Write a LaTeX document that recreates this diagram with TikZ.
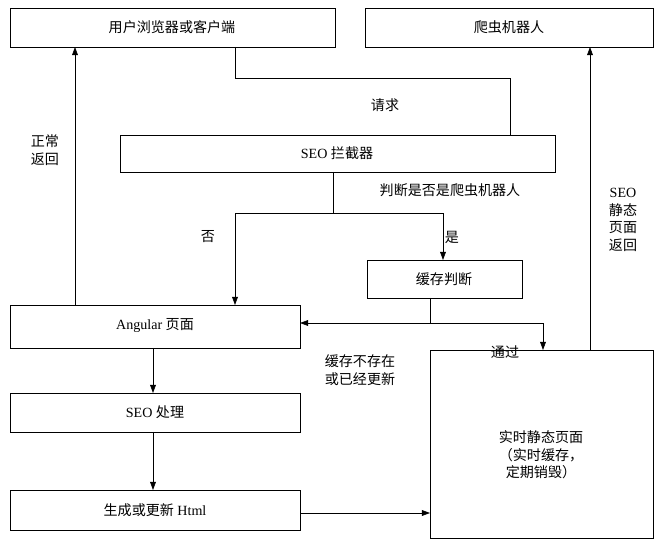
\documentclass[tikz,border=0pt]{standalone}
\usepackage{fontspec}
\setmainfont{Liberation Serif}
\newfontfamily\cjk{Noto Sans CJK SC}
\usetikzlibrary{arrows.meta}
\begin{document}
\begin{tikzpicture}[x=0.03cm,y=-0.03cm,font=\fontsize{12}{15}\selectfont,
  box/.style={draw,semithick},
  link/.style={draw,semithick,-{Triangle[length=7pt,width=5pt]}},
  lbl/.style={align=center,inner sep=1pt}]
\useasboundingbox (0,0) rectangle (662,544);
% boxes
\draw[box] (10,8) rectangle (335,47);
\node (user) at (172,27) {\cjk 用户浏览器或客户端};
\draw[box] (365,8) rectangle (653,47);
\node (bot) at (509,27) {\cjk 爬虫机器人};
\draw[box] (120,135) rectangle (555,172);
\node (seo) at (337,153) {SEO {\cjk 拦截器}};
\draw[box] (367,260) rectangle (522,298);
\node (cache) at (444,279) {\cjk 缓存判断};
\draw[box] (10,305) rectangle (300,348);
\node (ng) at (155,326) {Angular {\cjk 页面}};
\draw[box] (10,393) rectangle (300,432);
\node (proc) at (155,412) {SEO {\cjk 处理}};
\draw[box] (10,490) rectangle (300,530);
\node (gen) at (155,510) {{\cjk 生成或更新} Html};
\draw[box] (430,350) rectangle (653,538);
\node[lbl] (page) at (541,455) {\cjk 实时静态页面\\\cjk （实时缓存，\\\cjk 定期销毁）};
% connectors
\draw[semithick] (235,47) -- (235,78) -- (510,78) -- (510,135);
\draw[semithick] (333,172) -- (333,213);
\draw[link] (333,213) -- (235,213) -- (235,305);
\draw[link] (333,213) -- (443,213) -- (443,260);
\draw[link] (430,298) -- (430,323) -- (300,323);
\draw[link] (430,323) -- (543,323) -- (543,350);
\draw[link] (75,305) -- (75,47);
\draw[link] (590,350) -- (590,47);
\draw[link] (153,348) -- (153,393);
\draw[link] (153,432) -- (153,490);
\draw[link] (300,513) -- (430,513);
% labels
\node[lbl] at (385,105) {\cjk 请求};
\node[lbl] at (450,190) {\cjk 判断是否是爬虫机器人};
\node[lbl] at (208,237) {\cjk 否};
\node[lbl] at (452,237) {\cjk 是};
\node[lbl] at (360,370) {\cjk 缓存不存在\\\cjk 或已经更新};
\node[lbl] at (505,352) {\cjk 通过};
\node[lbl] at (45,150) {\cjk 正常\\\cjk 返回};
\node[lbl] at (623,220) {SEO\\\cjk 静态\\\cjk 页面\\\cjk 返回};
\end{tikzpicture}
\end{document}
